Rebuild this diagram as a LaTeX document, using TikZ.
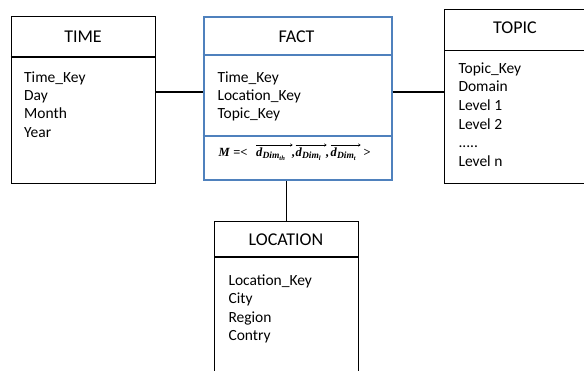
\documentclass[tikz,border=0pt]{standalone}
\usepackage{fontspec}
\setmainfont{Carlito}
\newfontfamily\measurefont{Liberation Serif}
\usetikzlibrary{arrows.meta}
\definecolor{factblue}{RGB}{79,129,189}
\newcommand\dterm[1]{\textit{d}\raisebox{-2.4pt}{\fontsize{9.5}{10}\selectfont\textit{Dim}\raisebox{-1.5pt}{\fontsize{6.5}{7}\selectfont\textit{#1}}}}
\begin{document}
\begin{tikzpicture}[x=1pt,y=-1pt,
  box/.style={draw=black, line width=1.3pt, rectangle, anchor=north west, inner sep=0pt},
  factbox/.style={draw=factblue, line width=2.2pt, rectangle, anchor=north west, inner sep=0pt},
  sep/.style={line width=1.1pt},
  title/.style={font=\fontsize{18}{22}\selectfont, anchor=base, inner sep=0pt},
  attr/.style={font=\fontsize{15.5}{18.5}\selectfont, anchor=base west, inner sep=0pt},
  meas/.style={font=\measurefont\bfseries\fontsize{12.5}{14}\selectfont, anchor=base west, inner sep=0pt},
  vecarrow/.style={draw=black, line width=0.6pt, -{To[length=2.4pt,width=3pt]}},
  link/.style={draw=black, line width=1.3pt}]
\useasboundingbox (0,0) rectangle (584,370);
\clip (0,0) rectangle (584,370);
% boxes
\node[box, minimum width=144pt, minimum height=167pt] (time) at (10.7,16) {};
\node[factbox, minimum width=188pt, minimum height=163pt] (fact) at (202.5,16) {};
\node[box, minimum width=170pt, minimum height=174.5pt] (topic) at (444,8.5) {};
\node[box, minimum width=144pt, minimum height=170pt] (location) at (214,220.7) {};
% separators
\draw[sep] (time.west |- 0,57) -- (time.east |- 0,57);
\draw[sep, draw=factblue, line width=1.6pt] (fact.west |- 0,55) -- (fact.east |- 0,55);
\draw[sep, draw=factblue, line width=1.6pt] (fact.west |- 0,136) -- (fact.east |- 0,136);
\draw[sep] (topic.west |- 0,50.5) -- (topic.east |- 0,50.5);
\draw[sep] (location.west |- 0,257) -- (location.east |- 0,257);
% titles
\node[title] (timetitle) at (83,42.3) {TIME};
\node[title] (facttitle) at (296.5,42.3) {FACT};
\node[title] (topictitle) at (515,33.5) {TOPIC};
\node[title] (loctitle) at (286,245.5) {LOCATION};
% TIME attributes
\node[attr] (ta1) at (24,82) {Time\_Key};
\node[attr] (ta2) at (24,100.4) {Day};
\node[attr] (ta3) at (24,118.8) {Month};
\node[attr] (ta4) at (24,137.2) {Year};
% FACT attributes
\node[attr] (fa1) at (217.3,82) {Time\_Key};
\node[attr] (fa2) at (217.3,100.4) {Location\_Key};
\node[attr] (fa3) at (217.3,118.8) {Topic\_Key};
% TOPIC attributes
\node[attr] (pa1) at (458.3,73.3) {Topic\_Key};
\node[attr] (pa2) at (458.3,91.9) {Domain};
\node[attr] (pa3) at (458.3,110.5) {Level 1};
\node[attr] (pa4) at (458.3,129.1) {Level 2};
\node[attr] (pa5) at (458.3,147.7) {.....};
\node[attr] (pa6) at (458.3,166.3) {Level n};
% LOCATION attributes
\node[attr] (la1) at (228.3,285) {Location\_Key};
\node[attr] (la2) at (228.3,303.5) {City};
\node[attr] (la3) at (228.3,322) {Region};
\node[attr] (la4) at (228.3,340.5) {Contry};
% measure formula
\node[meas] (m0) at (218.5,156.5) {\textit{M} =<};
\node[meas] (d1) at (256,156.5) {\dterm{th}};
\node[meas] (c1) at (291.5,156.5) {,};
\node[meas] (d2) at (295.5,156.5) {\dterm{l}};
\node[meas] (c2) at (325.5,156.5) {,};
\node[meas] (d3) at (330.5,156.5) {\dterm{t}};
\node[meas] (m4) at (363.5,156.5) {>};
\draw[vecarrow] (d1.west |- 0,145) -- ++(36.5,0);
\draw[vecarrow] (d2.west |- 0,145) -- ++(31,0);
\draw[vecarrow] (d3.west |- 0,145) -- ++(30,0);
% connectors
\coordinate (jy) at (0,92);
\draw[link] (time.east |- jy) -- (fact.west |- jy);
\draw[link] (fact.east |- jy) -- (topic.west |- jy);
\draw[link] (location.north) -- (location.north |- fact.south);
\end{tikzpicture}
\end{document}
